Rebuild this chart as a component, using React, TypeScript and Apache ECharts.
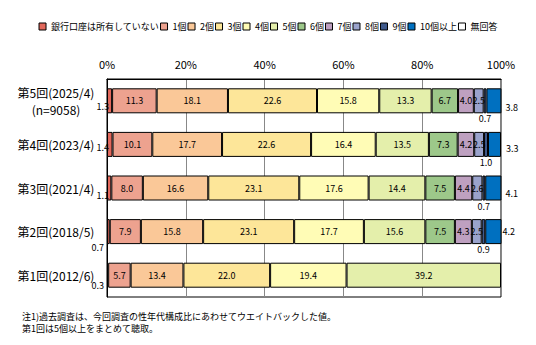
import React, { useEffect, useRef } from "react";
import * as echarts from "echarts";

const categories = [
  "第5回(2025/4)\n(n=9058)",
  "第4回(2023/4)",
  "第3回(2021/4)",
  "第2回(2018/5)",
  "第1回(2012/6)",
];

const seriesNames = [
  "銀行口座は所有していない",
  "1個",
  "2個",
  "3個",
  "4個",
  "5個",
  "6個",
  "7個",
  "8個",
  "9個",
  "10個以上",
  "無回答",
];

const noAccount = [1.3, 1.4, 1.1, 0.7, 0.3];
const one = [11.3, 10.1, 8.0, 7.9, 5.7];
const two = [18.1, 17.7, 16.6, 15.8, 13.4];
const three = [22.6, 22.6, 23.1, 23.1, 22.0];
const four = [15.8, 16.4, 17.6, 17.7, 19.4];
const five = [13.3, 13.5, 14.4, 15.6, 39.2];
const six = [6.7, 7.3, 7.5, 7.5, null];
const seven = [4.0, 4.2, 4.4, 4.3, null];
const eight = [2.5, 2.5, 2.6, 2.5, null];
const nine = [0.7, 1.0, 0.7, 0.9, null];
const tenPlus = [3.8, 3.3, 4.1, 4.2, null];
const noAnswer = [null, null, null, null, null];

const tickLabels = ["0%", "20%", "40%", "60%", "80%", "100%"];

const notes = [
  "注1)過去調査は、今回調査の性年代構成比にあわせてウエイトバックした値。",
  "第1回は5個以上をまとめて聴取。",
];

const colors = [
  "#E2685C",
  "#EDA28F",
  "#FAC898",
  "#FDE699",
  "#FFFCB6",
  "#E4EFAB",
  "#9DC88A",
  "#BEA0C0",
  "#9AA3CC",
  "#3F5A8C",
  "#0070C0",
  "#FFFFFF",
];

const FONT = "'Noto Sans CJK JP', 'Noto Sans', sans-serif";

export default function App() {
  const ref = useRef<HTMLDivElement>(null);

  useEffect(() => {
    if (!ref.current) return;
    const chart = echarts.init(ref.current, undefined, { renderer: "svg" });
    const allData = [
      noAccount, one, two, three, four, five, six, seven, eight, nine, tenPlus, noAnswer,
    ];

    const fmt = (p: any) =>
      p.value === null || p.value === undefined ? "" : Number(p.value).toFixed(1);

    const firstLabelOffsets = [[0, 6], [0, 3], [0, 7], [0, 16], [0, 10]];
    const firstLabelDistances = [-2, -2, -2, 3, 3];
    const lastLabelOffsets = [[4, 7], [5, 4], [4, 5], [1, 0], [0, 0]];

    const series = allData.map((arr, si) => {
      const data = arr.map((v, i) => {
        if (si === 0) {
          return {
            value: v,
            label: {
              show: true,
              position: "left",
              distance: firstLabelDistances[i],
              offset: firstLabelOffsets[i],
            },
          };
        }
        if (si === 10) {
          return {
            value: v,
            label: {
              show: true,
              position: "right",
              distance: 0,
              offset: lastLabelOffsets[i],
            },
          };
        }
        return { value: v };
      });
      let label: any = {
        show: si !== 11,
        position: "inside",
        color: "#000",
        fontSize: 9,
        fontFamily: FONT,
        formatter: fmt,
      };
      if (si === 9) {
        label = { ...label, position: "bottom", distance: 1 };
      }
      return {
        name: seriesNames[si],
        type: "bar",
        stack: "total",
        barWidth: 25,
        data,
        itemStyle: {
          color: colors[si],
          borderColor: "#000",
          borderWidth: 1,
        },
        label,
        emphasis: { disabled: true },
      };
    });

    chart.setOption({
      animation: false,
      textStyle: { fontFamily: FONT, color: "#000" },
      legend: {
        top: 17,
        left: "center",
        itemWidth: 7,
        itemHeight: 7,
        itemGap: 1,
        icon: "rect",
        textStyle: { fontSize: 9, color: "#000", fontFamily: FONT },
        itemStyle: { borderColor: "#000", borderWidth: 1 },
        data: seriesNames,
        selectedMode: false,
      },
      grid: {
        left: 107,
        right: 35,
        top: 79,
        bottom: 48,
        show: true,
        borderColor: "#000",
        borderWidth: 1,
        backgroundColor: "transparent",
      },
      xAxis: {
        type: "value",
        position: "top",
        min: 0,
        max: 100,
        interval: 20,
        axisLine: { show: true, lineStyle: { color: "#000" } },
        axisTick: { show: false },
        axisLabel: {
          fontSize: 11,
          color: "#000",
          margin: 10,
          fontFamily: FONT,
          formatter: (v: number) => tickLabels[Math.round(v / 20)],
        },
        splitLine: { show: true, lineStyle: { color: "#888", width: 1 } },
      },
      yAxis: {
        type: "category",
        inverse: true,
        data: categories,
        axisLine: { show: true, lineStyle: { color: "#000" } },
        axisTick: { show: false },
        axisLabel: {
          fontSize: 12,
          color: "#000",
          margin: 11,
          fontFamily: FONT,
          formatter: (v: string) =>
            v
              .split("\n")
              .map((s) => "{c|" + s + "}")
              .join("\n"),
          rich: {
            c: {
              fontSize: 12,
              width: 80,
              align: "center",
              lineHeight: 17.5,
              fontFamily: FONT,
              color: "#000",
            },
          },
        },
      },
      graphic: notes.map((t, i) => ({
        type: "text",
        left: 22,
        top: 312 + i * 12,
        style: {
          text: t,
          fontSize: 9,
          fill: "#000",
          fontFamily: FONT,
        },
      })),
      series,
    });

    return () => chart.dispose();
  }, []);

  return <div ref={ref} style={{ width: 536, height: 345, position: "absolute", left: 0, top: 0 }} />;
}
